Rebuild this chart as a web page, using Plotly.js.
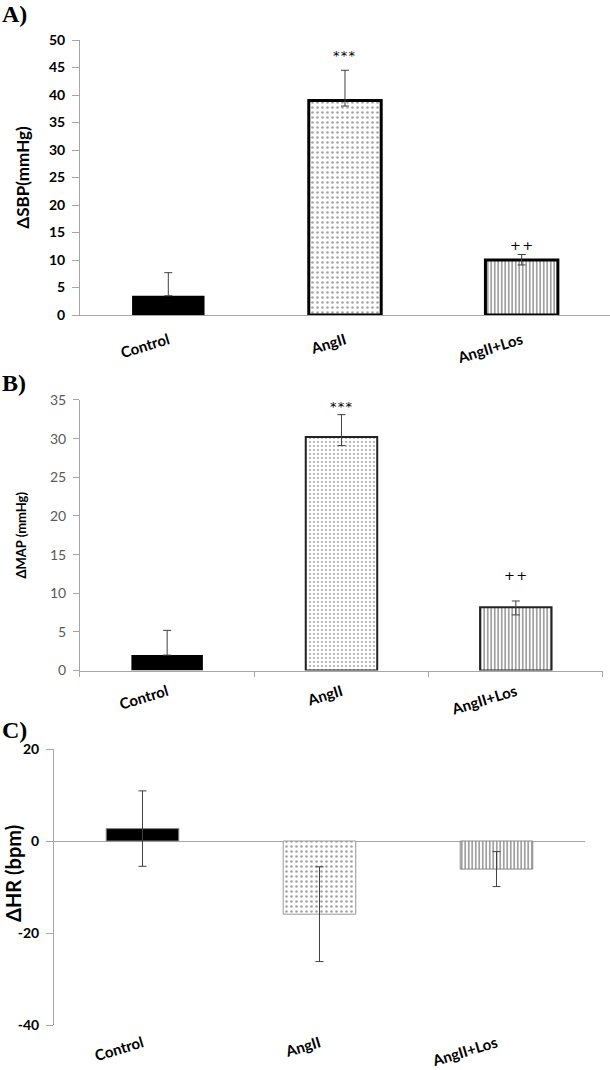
<!DOCTYPE html>
<html>
<head>
<meta charset="utf-8">
<script src="https://cdn.plot.ly/plotly-3.0.1.min.js"></script>
<style>html,body{margin:0;padding:0;background:#fff}#chart{width:610px;height:1070px}</style>
</head>
<body>
<div id="chart"></div>
<script>
// ---- data ----
const categories = ["Control", "AngII", "AngII+Los"];

const sbpMean = [3.5, 39.0, 10.0];
const sbpErrPlus = [4.2, 5.5, 1.0];
const sbpErrMinus = [0, 1.0, 0.9];
const sbpSig = ["", "***", "++"];

const mapMean = [2.0, 30.2, 8.2];
const mapErrPlus = [3.2, 2.9, 0.8];
const mapErrMinus = [0, 1.1, 1.0];
const mapSig = ["", "***", "++"];

const hrMean = [2.7, -15.9, -6.1];
const hrErr = [8.2, 10.3, 3.8];

const yTicksA = [0, 5, 10, 15, 20, 25, 30, 35, 40, 45, 50];
const yTicksB = [0, 5, 10, 15, 20, 25, 30, 35];
const yTicksC = [-40, -20, 0, 20];
const yTickTextC = ["-40", "-20", "0", "20"];

// ---- styles ----
const patShapes = ["", ".", "|"];
const errColor = "#404040";
const axisGray = "#a6a6a6";
const sans = "Lato, 'Open Sans', sans-serif";

function barTrace(x, y, plus, minus, xa, ya, lineW, lineC, fg, patSize, patSol) {
  return {
    type: "bar", x: x, y: y, xaxis: xa, yaxis: ya, width: 0.41,
    marker: {
      color: ["#000000", "#ffffff", "#ffffff"],
      line: {color: lineC, width: lineW},
      pattern: {shape: patShapes, fgcolor: fg, bgcolor: "#ffffff", size: patSize, solidity: patSol, fillmode: "overlay"}
    },
    error_y: {type: "data", symmetric: false, array: plus, arrayminus: minus, color: errColor, thickness: 1, width: 4},
    hoverinfo: "skip", showlegend: false
  };
}

const traces = [
  barTrace(categories, sbpMean, sbpErrPlus, sbpErrMinus, "x", "y", [0, 3, 3], ["#000", "#000", "#000"], ["#000", "#333", "#000"], [4, 5, 3.5], [0.4, 0.2, 0.5]),
  barTrace(categories, mapMean, mapErrPlus, mapErrMinus, "x2", "y2", [0, 2, 2], ["#000", "#222", "#222"], ["#000", "#444", "#000"], [4, 4, 3.5], [0.4, 0.2, 0.5]),
  barTrace(categories, hrMean, hrErr, hrErr, "x3", "y3", [1, 1, 1], ["#888", "#999", "#888"], ["#000", "#444", "#000"], [4, 5, 3.5], [0.4, 0.2, 0.5])
];

const annotations = [];
function sig(labels, mean, plus, xa, ya, shifts) {
  labels.forEach((t, i) => {
    if (!t) return;
    annotations.push({xref: xa, yref: ya, x: categories[i], y: mean[i] + plus[i], text: t.split("").join("&#8202;"),
      showarrow: false, yanchor: "bottom", yshift: shifts[i],
      font: {family: "'DejaVu Sans', sans-serif", size: 13, color: "#000"}});
  });
}
sig(sbpSig, sbpMean, sbpErrPlus, "x", "y", [0, 5, 0]);
sig(mapSig, mapMean, mapErrPlus, "x2", "y2", [0, -1, 16]);

[["A)", 0.987], ["B)", 0.642], ["C)", 0.318]].forEach(p => {
  annotations.push({xref: "paper", yref: "paper", x: 0, y: p[1], xanchor: "left", yanchor: "middle",
    text: "<b>" + p[0] + "</b>", showarrow: false,
    font: {family: "'Liberation Serif', 'Times New Roman', serif", size: 24, color: "#000"}});
});

// panel C y-axis title (placed slightly above the axis centre, as in the reference)
annotations.push({xref: "paper", yref: "paper", x: 13 / 610, y: 1 - 874 / 1070, xanchor: "center", yanchor: "middle",
  textangle: -90, text: "<b>ΔHR (bpm)</b>", showarrow: false,
  font: {family: sans, size: 20, color: "#000"}});

const xTickFont = {family: sans, size: 15, color: "#000", weight: "bold"};

const layout = {
  width: 610, height: 1070,
  margin: {l: 0, r: 0, t: 0, b: 0},
  paper_bgcolor: "#fff", plot_bgcolor: "#fff",
  showlegend: false,
  xaxis: {domain: [0.1311, 1.0], anchor: "y", type: "category", range: [-0.5, 2.5],
    showline: true, linecolor: axisGray, linewidth: 1, ticks: "", showgrid: false,
    tickangle: -17, tickfont: xTickFont, ticklabelstandoff: 10},
  yaxis: {domain: [0.7056, 0.9626], anchor: "x", range: [0, 50], tickvals: yTicksA,
    showline: true, linecolor: axisGray, ticks: "outside", ticklen: 7, tickcolor: axisGray,
    showgrid: false, zeroline: false, ticklabelstandoff: 4,
    tickfont: {family: sans, size: 14, color: "#000", weight: "bold"},
    title: {text: "ΔSBP(mmHg)", font: {family: sans, size: 17, color: "#000", weight: "bold"}, standoff: 14}},
  xaxis2: {domain: [0.1311, 0.9885], anchor: "y2", type: "category", range: [-0.5, 2.5],
    showline: true, linecolor: axisGray, ticks: "outside", tickson: "boundaries", ticklen: 5, tickcolor: axisGray,
    showgrid: false, tickangle: -17, tickfont: xTickFont, ticklabelstandoff: 6},
  yaxis2: {domain: [0.3733, 0.6262], anchor: "x2", range: [0, 35], tickvals: yTicksB,
    showline: true, linecolor: axisGray, ticks: "outside", ticklen: 6, tickcolor: axisGray,
    showgrid: false, zeroline: false, ticklabelstandoff: 4,
    tickfont: {family: sans, size: 14, color: "#595959"},
    title: {text: "ΔMAP (mmHg)", font: {family: sans, size: 13, color: "#000", weight: "bold"}, standoff: 20}},
  xaxis3: {domain: [0.0885, 0.959], anchor: "y3", type: "category", range: [-0.5, 2.5],
    showline: false, ticks: "", showgrid: false, tickangle: -17, tickfont: xTickFont, ticklabelstandoff: 6},
  yaxis3: {domain: [0.042, 0.300], anchor: "x3", range: [-40, 20], tickvals: yTicksC, ticktext: yTickTextC,
    showline: true, linecolor: axisGray, ticks: "outside", ticklen: 7, tickcolor: axisGray,
    showgrid: false, zeroline: true, zerolinecolor: axisGray, zerolinewidth: 1, ticklabelstandoff: 4,
    tickfont: {family: sans, size: 14, color: "#000", weight: "bold"}},
  annotations: annotations
};

Plotly.newPlot("chart", traces, layout, {displayModeBar: false, staticPlot: true});
</script>
</body>
</html>
